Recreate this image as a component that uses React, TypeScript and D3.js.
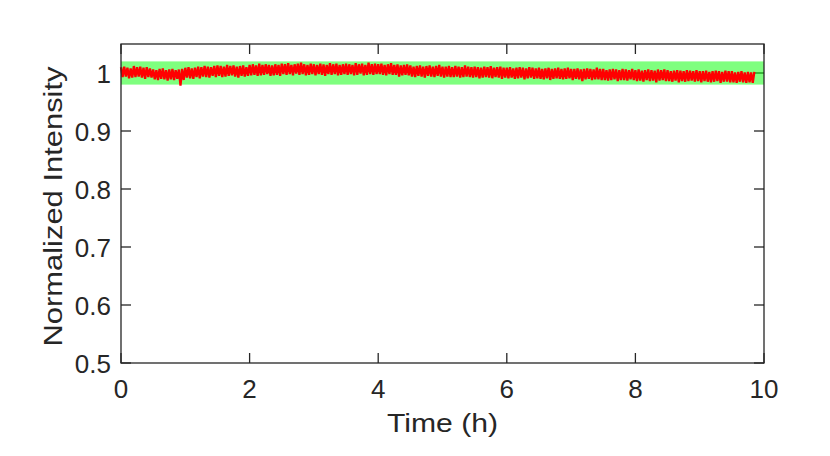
import React from "react";
import * as d3 from "d3";

// ---- data ----
const X_TICKS = [0, 2, 4, 6, 8, 10];
const Y_TICKS = [0.5, 0.6, 0.7, 0.8, 0.9, 1];
const X_DOMAIN = [0, 10];
const Y_DOMAIN = [0.5, 1.05];
const BAND_LOW = 0.98;
const BAND_HIGH = 1.02;
const SAMPLE_STEP_H = 0.025; // sampling interval of the trace (hours)

// normalized intensity trace (one value per sample, 20 per half hour)
const INTENSITY = [
  1.010, 0.993, 1.011, 0.994, 1.009, 0.991, 1.008, 0.992, 1.012, 0.993, 1.010, 0.994, 1.011, 0.992, 1.009, 0.990, 1.010, 0.993, 1.008, 0.992,
  1.006, 0.989, 1.005, 0.988, 1.007, 0.990, 1.008, 0.989, 1.005, 0.987, 1.006, 0.989, 1.007, 0.988, 1.005, 0.990, 1.006, 0.978, 1.007, 0.988,
  1.009, 0.992, 1.010, 0.991, 1.008, 0.990, 1.009, 0.993, 1.011, 0.991, 1.010, 0.994, 1.012, 0.993, 1.011, 0.992, 1.010, 0.995, 1.012, 0.993,
  1.013, 0.995, 1.012, 0.993, 1.011, 0.994, 1.014, 0.995, 1.012, 0.996, 1.013, 0.994, 1.011, 0.992, 1.012, 0.995, 1.013, 0.994, 1.010, 0.995,
  1.014, 0.996, 1.015, 0.997, 1.013, 0.995, 1.016, 0.996, 1.014, 0.997, 1.015, 0.998, 1.014, 0.995, 1.013, 0.996, 1.015, 0.997, 1.014, 0.995,
  1.016, 0.998, 1.015, 0.997, 1.017, 0.998, 1.014, 0.996, 1.015, 0.999, 1.016, 0.997, 1.018, 0.998, 1.015, 0.996, 1.014, 0.997, 1.016, 0.998,
  1.015, 0.996, 1.014, 0.998, 1.016, 0.997, 1.015, 0.995, 1.014, 0.998, 1.017, 0.997, 1.015, 0.998, 1.016, 0.996, 1.014, 0.997, 1.015, 0.998,
  1.016, 0.997, 1.015, 0.998, 1.014, 0.996, 1.017, 0.997, 1.015, 0.999, 1.016, 0.996, 1.014, 0.997, 1.018, 0.998, 1.015, 0.997, 1.016, 0.998,
  1.015, 0.998, 1.016, 0.997, 1.014, 0.996, 1.015, 0.998, 1.017, 0.997, 1.014, 0.997, 1.015, 0.994, 1.013, 0.996, 1.014, 0.997, 1.015, 0.996,
  1.013, 0.994, 1.011, 0.993, 1.012, 0.995, 1.013, 0.994, 1.011, 0.992, 1.012, 0.995, 1.013, 0.994, 1.011, 0.993, 1.012, 0.995, 1.014, 0.994,
  1.011, 0.992, 1.011, 0.994, 1.012, 0.993, 1.010, 0.993, 1.012, 0.994, 1.011, 0.992, 1.010, 0.993, 1.013, 0.994, 1.011, 0.993, 1.010, 0.992,
  1.011, 0.993, 1.010, 0.991, 1.009, 0.992, 1.011, 0.993, 1.010, 0.992, 1.012, 0.991, 1.009, 0.993, 1.010, 0.992, 1.011, 0.990, 1.009, 0.992,
  1.009, 0.991, 1.010, 0.992, 1.008, 0.990, 1.009, 0.991, 1.010, 0.992, 1.009, 0.989, 1.008, 0.991, 1.010, 0.992, 1.009, 0.990, 1.008, 0.991,
  1.009, 0.990, 1.007, 0.989, 1.008, 0.991, 1.009, 0.988, 1.007, 0.990, 1.008, 0.991, 1.009, 0.990, 1.007, 0.989, 1.008, 0.990, 1.009, 0.991,
  1.007, 0.988, 1.007, 0.990, 1.008, 0.989, 1.006, 0.986, 1.007, 0.989, 1.008, 0.990, 1.007, 0.988, 1.006, 0.989, 1.009, 0.989, 1.007, 0.988,
  1.007, 0.988, 1.005, 0.987, 1.006, 0.988, 1.007, 0.989, 1.006, 0.986, 1.005, 0.988, 1.007, 0.988, 1.006, 0.987, 1.005, 0.989, 1.007, 0.988,
  1.005, 0.986, 1.006, 0.987, 1.004, 0.985, 1.005, 0.988, 1.006, 0.986, 1.005, 0.987, 1.004, 0.984, 1.006, 0.987, 1.005, 0.988, 1.006, 0.986,
  1.005, 0.986, 1.003, 0.985, 1.004, 0.987, 1.005, 0.984, 1.004, 0.986, 1.003, 0.985, 1.005, 0.986, 1.004, 0.987, 1.003, 0.985, 1.005, 0.986,
  1.003, 0.984, 1.003, 0.986, 1.004, 0.985, 1.002, 0.984, 1.003, 0.985, 1.004, 0.986, 1.003, 0.983, 1.002, 0.985, 1.004, 0.985, 1.003, 0.984,
  1.003, 0.984, 1.001, 0.983, 1.002, 0.985, 1.003, 0.984, 1.001, 0.983, 1.002, 0.984, 1.001, 0.983, 1.002,
];
const TIME = INTENSITY.map((_, i) => i * SAMPLE_STEP_H);

// ---- layout ----
const W = 830;
const H = 456;
const L = 121;
const R = 764;
const T = 44;
const B = 363;
const TICK = 10;
const AX = "#262626";
const FONT = "'Liberation Sans', Arial, Helvetica, sans-serif";

export default function App() {
  const x = d3.scaleLinear().domain(X_DOMAIN).range([L, R]);
  const y = d3.scaleLinear().domain(Y_DOMAIN).range([B, T]);
  const line = d3
    .line<number>()
    .x((_, i) => x(TIME[i]))
    .y((d) => y(d));

  return (
    <svg
      width={W}
      height={H}
      style={{ position: "absolute", left: 0, top: 0, background: "#fff" }}
      fontFamily={FONT}
    >
      <rect x={0} y={0} width={W} height={H} fill="#fff" />
      {/* ticks */}
      <g stroke={AX} strokeWidth={1.3}>
        {X_TICKS.map((t) => (
          <g key={"x" + t}>
            <line x1={x(t)} x2={x(t)} y1={B} y2={B - TICK} />
            <line x1={x(t)} x2={x(t)} y1={T} y2={T + TICK} />
          </g>
        ))}
        {Y_TICKS.map((t) => (
          <g key={"y" + t}>
            <line x1={L} x2={L + TICK} y1={y(t)} y2={y(t)} />
            <line x1={R} x2={R - TICK} y1={y(t)} y2={y(t)} />
          </g>
        ))}
      </g>
      {/* tolerance band */}
      <rect
        x={x(X_DOMAIN[0])}
        width={x(X_DOMAIN[1]) - x(X_DOMAIN[0])}
        y={y(BAND_HIGH)}
        height={y(BAND_LOW) - y(BAND_HIGH)}
        fill="#00ff00"
        fillOpacity={0.5}
      />
      {/* trace */}
      <path
        d={line(INTENSITY) || ""}
        fill="none"
        stroke="#ff0000"
        strokeWidth={2.3}
        strokeLinejoin="bevel"
      />
      {/* box */}
      <rect x={L} y={T} width={R - L} height={B - T} fill="none" stroke={AX} strokeWidth={1.3} />
      {/* tick labels */}
      <g fill={AX} fontSize={26}>
        {X_TICKS.map((t) => (
          <text key={"xl" + t} x={x(t)} y={398} textAnchor="middle">
            {t}
          </text>
        ))}
        {Y_TICKS.map((t) => (
          <text key={"yl" + t} x={L - 10} y={y(t) + 10} textAnchor="end">
            {t}
          </text>
        ))}
      </g>
      {/* axis labels */}
      <text
        x={(L + R) / 2}
        y={432}
        textAnchor="middle"
        fontSize={26.5}
        fill={AX}
        textLength={111}
        lengthAdjust="spacingAndGlyphs"
      >
        Time (h)
      </text>
      <text
        transform={`translate(62, ${(T + B) / 2 + 3}) rotate(-90)`}
        textAnchor="middle"
        fontSize={26.5}
        fill={AX}
        textLength={280}
        lengthAdjust="spacingAndGlyphs"
      >
        Normalized Intensity
      </text>
    </svg>
  );
}
